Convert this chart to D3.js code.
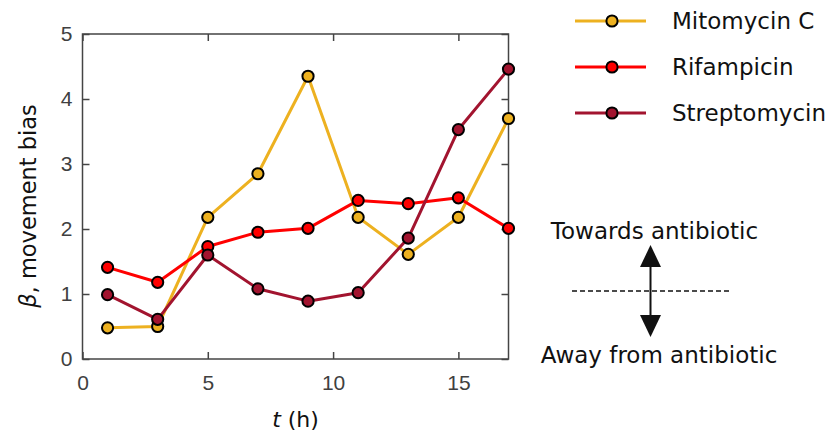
<!DOCTYPE html>
<html>
<head>
<meta charset="utf-8">
<script src="https://cdn.jsdelivr.net/npm/d3@7"></script>
<style>
  body { margin: 0; background: #fff; }
  svg { display: block; }
</style>
</head>
<body>
<div id="chart"></div>
<script>
// movement bias over time, three antibiotics

var width = 833;
var height = 439;

// data
var hours = [1, 3, 5, 7, 9, 11, 13, 15, 17];
var mitomycin = [0.48, 0.50, 2.18, 2.85, 4.35, 2.18, 1.61, 2.18, 3.70];
var rifampicin = [1.41, 1.18, 1.73, 1.95, 2.01, 2.44, 2.39, 2.48, 2.01];
var streptomycin = [0.99, 0.61, 1.60, 1.08, 0.89, 1.02, 1.86, 3.53, 4.46];

var seriesNames = ["Mitomycin C", "Rifampicin", "Streptomycin"];
var seriesColors = ["#EDB120", "#FF0000", "#A2142F"];
var xTicks = [0, 5, 10, 15];
var yTicks = [0, 1, 2, 3, 4, 5];

var series = [mitomycin, rifampicin, streptomycin].map(function(vals, i) {
    return {
        name: seriesNames[i],
        color: seriesColors[i],
        points: vals.map(function(v, j) { return { t: hours[j], v: v }; })
    };
});

var plot = { left: 82.5, right: 508.5, top: 34, bottom: 359 };

var x = d3.scaleLinear().domain([0, 17]).range([plot.left, plot.right]);
var y = d3.scaleLinear().domain([0, 5]).range([plot.bottom, plot.top]);

var svg = d3.select("#chart")
            .append("svg")
            .attr("width", width)
            .attr("height", height);

var axisColor = "#444";
var tickFont = "'Liberation Sans', Arial, sans-serif";
var labelFont = "'DejaVu Sans', sans-serif";
var markerR = 5.6;

// axes (ticks pointing inward, on all 4 sides)
var gBottom = svg.append("g")
    .attr("transform", "translate(0," + plot.bottom + ")")
    .call(d3.axisBottom(x).tickValues(xTicks).tickSize(-7).tickPadding(16).tickFormat(d3.format("d")));
var gTop = svg.append("g")
    .attr("transform", "translate(0," + plot.top + ")")
    .call(d3.axisTop(x).tickValues(xTicks).tickSize(-7).tickFormat(""));
var gLeft = svg.append("g")
    .attr("transform", "translate(" + plot.left + ",0)")
    .call(d3.axisLeft(y).tickValues(yTicks).tickSize(-7).tickPadding(10).tickFormat(d3.format("d")));
var gRight = svg.append("g")
    .attr("transform", "translate(" + plot.right + ",0)")
    .call(d3.axisRight(y).tickValues(yTicks).tickSize(-7).tickFormat(""));

[gBottom, gTop, gLeft, gRight].forEach(function(g) {
    g.select(".domain").remove();
    g.selectAll(".tick line").attr("stroke", axisColor).attr("stroke-width", 1.5);
    g.selectAll(".tick text")
     .attr("fill", "#404040")
     .style("font-family", tickFont)
     .style("font-size", "21px");
});

svg.append("rect")
   .attr("x", plot.left)
   .attr("y", plot.top)
   .attr("width", plot.right - plot.left)
   .attr("height", plot.bottom - plot.top)
   .attr("fill", "none")
   .attr("stroke", axisColor)
   .attr("stroke-width", 1.5);

// lines + markers
var line = d3.line()
    .x(function(d) { return x(d.t); })
    .y(function(d) { return y(d.v); });

series.forEach(function(s) {
    svg.append("path")
       .datum(s.points)
       .attr("fill", "none")
       .attr("stroke", s.color)
       .attr("stroke-width", 3)
       .attr("stroke-linejoin", "round")
       .attr("d", line);
});

series.forEach(function(s) {
    svg.append("g")
       .selectAll("circle")
       .data(s.points)
       .enter()
       .append("circle")
       .attr("cx", function(d) { return x(d.t); })
       .attr("cy", function(d) { return y(d.v); })
       .attr("r", markerR)
       .attr("fill", s.color)
       .attr("stroke", "#000")
       .attr("stroke-width", 2);
});

// axis titles
var xl = svg.append("text")
    .attr("x", (plot.left + plot.right) / 2)
    .attr("y", 427)
    .attr("text-anchor", "middle")
    .style("font-family", labelFont)
    .style("font-size", "22px")
    .attr("fill", "#111");
xl.append("tspan").style("font-style", "italic").text("t");
xl.append("tspan").text(" (h)");

var yl = svg.append("text")
    .attr("transform", "translate(36,206) rotate(-90)")
    .attr("text-anchor", "middle")
    .style("font-family", labelFont)
    .style("font-size", "22.5px")
    .attr("fill", "#111");
yl.append("tspan").style("font-style", "italic").text("β");
yl.append("tspan").text(", movement bias");

// legend
var legend = svg.append("g")
    .selectAll("g")
    .data(series)
    .enter()
    .append("g")
    .attr("transform", function(d, i) { return "translate(0," + (21 + i * 46) + ")"; });

legend.append("line")
    .attr("x1", 575).attr("x2", 646)
    .attr("stroke", function(d) { return d.color; })
    .attr("stroke-width", 3);
legend.append("circle")
    .attr("cx", 612)
    .attr("r", markerR)
    .attr("fill", function(d) { return d.color; })
    .attr("stroke", "#000")
    .attr("stroke-width", 2);
legend.append("text")
    .attr("x", 672)
    .attr("dy", "0.36em")
    .style("font-family", labelFont)
    .style("font-size", "23px")
    .attr("fill", "#111")
    .text(function(d) { return d.name; });

// direction annotation
var ann = svg.append("g");
ann.append("text")
   .attr("x", 654.5).attr("y", 239)
   .attr("text-anchor", "middle")
   .style("font-family", labelFont)
   .style("font-size", "23px")
   .attr("fill", "#111")
   .text("Towards antibiotic");
ann.append("text")
   .attr("x", 659).attr("y", 363)
   .attr("text-anchor", "middle")
   .style("font-family", labelFont)
   .style("font-size", "23px")
   .attr("fill", "#111")
   .text("Away from antibiotic");
ann.append("line")
   .attr("x1", 572).attr("x2", 729)
   .attr("y1", 291).attr("y2", 291)
   .attr("stroke", "#111")
   .attr("stroke-width", 1.5)
   .attr("stroke-dasharray", "5,3");
ann.append("line")
   .attr("x1", 650.5).attr("x2", 650.5)
   .attr("y1", 262).attr("y2", 320)
   .attr("stroke", "#111")
   .attr("stroke-width", 2);
ann.append("path")
   .attr("d", "M650.5,245 L661,267 L640,267 Z")
   .attr("fill", "#111");
ann.append("path")
   .attr("d", "M650.5,337 L661,315 L640,315 Z")
   .attr("fill", "#111");
</script>
</body>
</html>
